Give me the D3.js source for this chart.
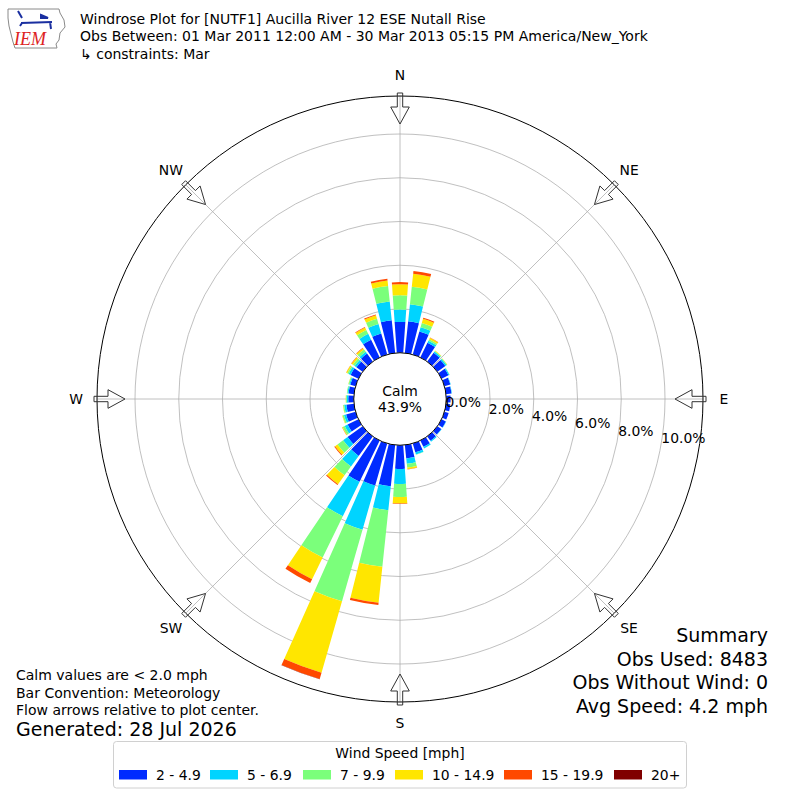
<!DOCTYPE html>
<html lang="en">
<head>
    <meta charset="utf-8">
    <title>Windrose</title>
    <script src="https://d3js.org/d3.v7.min.js"></script>
    <style>
        html, body {
            margin: 0;
            padding: 0;
            background: #fff;
        }
        text {
            font-family: "DejaVu Sans", sans-serif;
            fill: #000;
        }
        .grid {
            fill: none;
            stroke: #b0b0b0;
            stroke-width: 0.8px;
        }
        .arrow {
            fill: none;
            stroke: #333;
            stroke-width: 1px;
        }
    </style>
</head>
<body>
<script>
    // wind directions (degrees, where the wind blows from)
    var directions = [0, 10, 20, 30, 40, 50, 60, 70, 80, 90, 100, 110,
        120, 130, 140, 150, 160, 170, 180, 190, 200, 210, 220, 230,
        240, 250, 260, 270, 280, 290, 300, 310, 320, 330, 340, 350];

    var speedBins = ["2 - 4.9", "5 - 6.9", "7 - 9.9", "10 - 14.9", "15 - 19.9", "20+"];
    var binColors = ["#002bff", "#00d4ff", "#7bff7b", "#ffe600", "#ff4900", "#800000"];

    // percent of observations per direction, one array per speed bin
    var bin2to5 = [1.41, 1.46, 1.10, 0.75, 0.50, 0.45, 0.35, 0.28, 0.25, 0.20, 0.20, 0.20,
        0.22, 0.22, 0.25, 0.32, 0.42, 0.62, 1.08, 1.90, 2.00, 2.10, 1.10, 0.85,
        0.55, 0.45, 0.35, 0.25, 0.25, 0.25, 0.40, 0.35, 0.45, 0.90, 1.00, 1.50];
    var bin5to7 = [0.57, 0.78, 0.20, 0.10, 0.07, 0.07, 0.05, 0.02, 0.02, 0.00, 0.00, 0.00,
        0.02, 0.02, 0.05, 0.08, 0.10, 0.24, 0.69, 1.10, 2.10, 1.75, 0.60, 0.25,
        0.15, 0.10, 0.10, 0.07, 0.05, 0.05, 0.10, 0.10, 0.10, 0.30, 0.45, 0.87];
    var bin7to10 = [0.65, 0.80, 0.20, 0.08, 0.03, 0.03, 0.01, 0.00, 0.00, 0.00, 0.00, 0.00,
        0.00, 0.00, 0.00, 0.00, 0.02, 0.18, 0.60, 2.60, 3.40, 2.10, 0.50, 0.32,
        0.10, 0.07, 0.05, 0.04, 0.03, 0.04, 0.07, 0.10, 0.13, 0.20, 0.25, 0.71];
    var bin10to15 = [0.50, 0.60, 0.20, 0.07, 0.02, 0.01, 0.00, 0.00, 0.00, 0.00, 0.00, 0.00,
        0.00, 0.00, 0.00, 0.00, 0.00, 0.07, 0.29, 1.65, 3.40, 1.10, 0.50, 0.14,
        0.03, 0.02, 0.01, 0.01, 0.00, 0.01, 0.05, 0.08, 0.08, 0.12, 0.17, 0.25];
    var bin15to20 = [0.10, 0.13, 0.05, 0.02, 0.00, 0.00, 0.00, 0.00, 0.00, 0.00, 0.00, 0.00,
        0.00, 0.00, 0.00, 0.00, 0.00, 0.02, 0.03, 0.10, 0.30, 0.20, 0.05, 0.04,
        0.01, 0.00, 0.00, 0.00, 0.00, 0.00, 0.01, 0.02, 0.02, 0.03, 0.04, 0.08];
    var bin20plus = [0, 0, 0, 0, 0, 0, 0, 0, 0, 0, 0, 0,
        0, 0, 0, 0, 0, 0, 0, 0, 0.01, 0, 0, 0,
        0, 0, 0, 0, 0, 0, 0, 0, 0, 0, 0, 0];
    var bins = [bin2to5, bin5to7, bin7to10, bin10to15, bin15to20, bin20plus];

    var ringTicks = [0, 2, 4, 6, 8, 10];
    var compass = ["N", "NE", "E", "SE", "S", "SW", "W", "NW"];

    var titleLines = ["Windrose Plot for [NUTF1] Aucilla River 12 ESE Nutall Rise",
        "Obs Between: 01 Mar 2011 12:00 AM - 30 Mar 2013 05:15 PM America/New_York",
        "\u21B3 constraints: Mar"];
    var noteLines = ["Calm values are < 2.0 mph", "Bar Convention: Meteorology",
        "Flow arrows relative to plot center."];
    var summaryLines = ["Summary", "Obs Used: 8483", "Obs Without Wind: 0", "Avg Speed: 4.2 mph"];
    var calmPct = "43.9%";

    var cx = 400, cy = 399, R = 303;
    var toRad = Math.PI / 180;

    var r = d3.scaleLinear().domain([0, 10]).range([46.25, 265]);

    var svg = d3.select("body").append("svg")
        .attr("width", 800).attr("height", 800);

    // header
    var logo = svg.append("g").attr("class", "logo");
    logo.append("path")
        .attr("d", "M8,9 L59,9 L60,13 L64,20 L65,27 L60,33 L59,40 L56,44 L57,48 L15,48 L13,42 L11,34 L9,26 L8,18 Z")
        .attr("fill", "none").attr("stroke", "#8a8a8a").attr("stroke-width", 1);
    logo.append("path")
        .attr("d", "M18,11 L22,18 M21,23 L52,22 M41,15 L48,18 L41,18 Z M50,22 L51,29 M22,23 L20,26")
        .attr("fill", "#1a2fa0").attr("stroke", "#1a2fa0").attr("stroke-width", 2);
    logo.append("text")
        .attr("x", 14).attr("y", 45)
        .style("font-family", "'Liberation Serif', serif")
        .style("font-style", "italic")
        .style("font-size", "18px")
        .style("fill", "#d22")
        .text("IEM");

    svg.append("g").selectAll("text")
        .data(titleLines)
        .join("text")
        .attr("x", 80)
        .attr("y", function(d, i) { return 24 + i * 17.3; })
        .style("font-size", "14px")
        .text(function(d) { return d; });

    var plot = svg.append("g").attr("transform", "translate(" + cx + "," + cy + ")");

    // grid sits below the bars
    plot.append("g").selectAll("circle")
        .data(ringTicks.slice(1))
        .join("circle")
        .attr("class", "grid")
        .attr("r", function(d) { return r(d); });
    plot.append("g").selectAll("line")
        .data(compass)
        .join("line")
        .attr("class", "grid")
        .attr("x1", 0).attr("y1", 0)
        .attr("x2", function(d, i) { return R * Math.sin(i * 45 * toRad); })
        .attr("y2", function(d, i) { return -R * Math.cos(i * 45 * toRad); });

    // stacked bars
    var arc = d3.arc();
    var half = 4 * toRad;
    var segs = [];
    directions.forEach(function(dir, i) {
        var cum = 0;
        bins.forEach(function(b, j) {
            var v = b[i];
            if (v > 0) {
                segs.push({dir: dir, lo: cum, hi: cum + v, bin: j});
            }
            cum += v;
        });
    });
    plot.append("g").selectAll("path")
        .data(segs)
        .join("path")
        .attr("d", function(d) {
            return arc({
                innerRadius: r(d.lo),
                outerRadius: r(d.hi),
                startAngle: d.dir * toRad - half,
                endAngle: d.dir * toRad + half
            });
        })
        .attr("fill", function(d) { return binColors[d.bin]; });

    // calm circle
    plot.append("circle")
        .attr("r", r(0))
        .attr("fill", "#fff")
        .attr("stroke", "#000")
        .attr("stroke-width", 1);
    plot.append("text")
        .attr("text-anchor", "middle")
        .attr("y", -3)
        .style("font-size", "13.9px")
        .text("Calm");
    plot.append("text")
        .attr("text-anchor", "middle")
        .attr("y", 13)
        .style("font-size", "13.9px")
        .text(calmPct);

    // outer circle
    plot.append("circle")
        .attr("r", R)
        .attr("fill", "none")
        .attr("stroke", "#000")
        .attr("stroke-width", 1);

    // ring labels
    var labAng = 9.5 * toRad;
    plot.append("g").selectAll("text")
        .data(ringTicks)
        .join("text")
        .attr("x", function(d) { return r(d) * Math.cos(labAng); })
        .attr("y", function(d) { return r(d) * Math.sin(labAng); })
        .style("font-size", "13.9px")
        .text(function(d) { return d.toFixed(1) + "%"; });

    // flow arrows pointing at the centre
    function arrowPath(deg) {
        var t = deg * toRad;
        var ux = Math.sin(t), uy = -Math.cos(t);
        var vx = Math.cos(t), vy = Math.sin(t);
        var pts = [[R + 3, -2.7], [R - 11, -2.7], [R - 11, -9.3], [R - 28, 0],
            [R - 11, 9.3], [R - 11, 2.7], [R + 3, 2.7]];
        return "M" + pts.map(function(p) {
            return [p[0] * ux + p[1] * vx, p[0] * uy + p[1] * vy].join(",");
        }).join("L") + "Z";
    }
    plot.append("g").selectAll("path")
        .data(compass)
        .join("path")
        .attr("class", "arrow")
        .attr("d", function(d, i) { return arrowPath(i * 45); });

    plot.append("g").selectAll("text")
        .data(compass)
        .join("text")
        .attr("text-anchor", "middle")
        .attr("dominant-baseline", "central")
        .attr("x", function(d, i) { return 324 * Math.sin(i * 45 * toRad); })
        .attr("y", function(d, i) { return -324 * Math.cos(i * 45 * toRad); })
        .style("font-size", "13.9px")
        .text(function(d) { return d; });

    // notes bottom left
    svg.append("g").selectAll("text")
        .data(noteLines)
        .join("text")
        .attr("x", 16)
        .attr("y", function(d, i) { return 680 + i * 17.5; })
        .style("font-size", "14px")
        .text(function(d) { return d; });
    svg.append("text")
        .attr("x", 16).attr("y", 736)
        .style("font-size", "19px")
        .text("Generated: 28 Jul 2026");

    // summary bottom right
    svg.append("g").selectAll("text")
        .data(summaryLines)
        .join("text")
        .attr("x", 768)
        .attr("text-anchor", "end")
        .attr("y", function(d, i) { return 642 + i * 23.7; })
        .style("font-size", "19px")
        .text(function(d) { return d; });

    // legend
    var legend = svg.append("g").attr("class", "legend");
    legend.append("rect")
        .attr("x", 113.5).attr("y", 741.5)
        .attr("width", 573).attr("height", 46.5)
        .attr("rx", 3)
        .attr("fill", "#fff")
        .attr("stroke", "#d0d0d0");
    legend.append("text")
        .attr("x", 400).attr("y", 758)
        .attr("text-anchor", "middle")
        .style("font-size", "13.9px")
        .text("Wind Speed [mph]");
    var swatchX = [119, 210, 303, 395, 504, 614];
    var item = legend.selectAll("g.item")
        .data(speedBins)
        .join("g")
        .attr("class", "item")
        .attr("transform", function(d, i) { return "translate(" + swatchX[i] + ",770)"; });
    item.append("rect")
        .attr("width", 28).attr("height", 9.5)
        .attr("fill", function(d, i) { return binColors[i]; });
    item.append("text")
        .attr("x", 37).attr("y", 9.5)
        .style("font-size", "13.9px")
        .text(function(d) { return d; });
</script>
</body>
</html>
